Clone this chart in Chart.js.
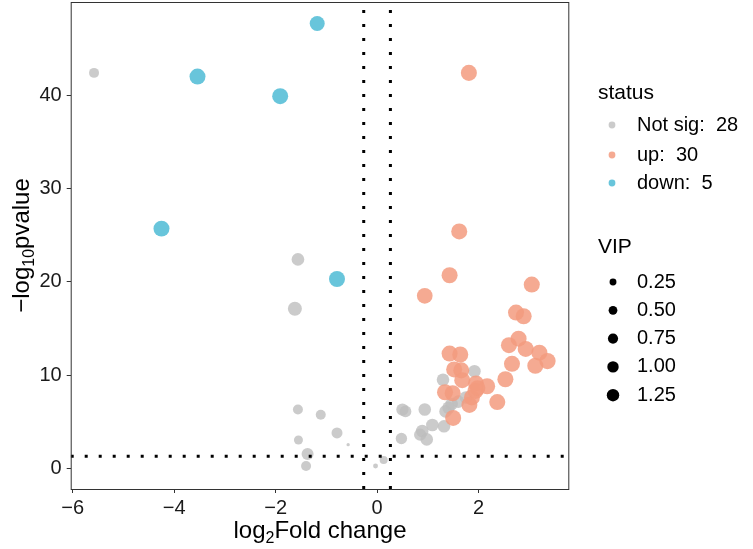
<!DOCTYPE html>
<html>
<head>
<meta charset="utf-8">
<script src="https://cdn.jsdelivr.net/npm/chart.js@4"></script>
<style>
  html, body { margin: 0; padding: 0; background: #fff; }
  #wrap { width: 753px; height: 549px; position: relative; }
</style>
</head>
<body>
<div id="wrap"><canvas id="volcano"></canvas></div>
<script>
// volcano plot: log2 fold change vs -log10 p, point size = VIP
const notSigX   = [-5.58, -1.56, -1.62, -1.56, -1.11, -0.79, -1.55, -0.57, -1.37, -1.40, -0.03, 0.13,
                   1.92, 1.30, 1.60, 1.41, 1.35, 0.50, 0.56, 0.94, 1.09, 1.32, 0.89, 0.85, 0.98, 0.48, 1.47, 1.75];
const notSigY   = [42.4, 22.4, 17.1, 6.3, 5.75, 3.79, 3.04, 2.53, 1.53, 0.25, 0.25, 0.9,
                   10.4, 9.5, 7.15, 6.5, 6.1, 6.3, 6.1, 6.3, 4.65, 4.5, 4.0, 3.6, 3.1, 3.2, 6.9, 7.6];
const notSigVIP = [0.71, 1.3, 1.66, 0.71, 0.71, 0.91, 0.54, 0.01, 1.14, 0.71, 0.08, 0.39,
                   1.28, 1.28, 1.28, 1.28, 1.28, 1.2, 1.1, 1.28, 1.28, 1.28, 1.28, 1.2, 1.28, 1.0, 1.28, 1.28];

const upX   = [1.81, 1.62, 1.43, 0.94, 3.05, 2.74, 2.89, 2.79, 2.60, 2.93, 3.20, 3.36, 3.12, 2.66, 2.53,
               2.37, 1.43, 1.64, 1.52, 1.66, 1.68, 1.95, 2.17, 1.34, 1.49, 1.94, 1.87, 1.82, 1.50, 1.98];
const upY   = [42.4, 25.4, 20.7, 18.5, 19.7, 16.7, 16.3, 13.9, 13.2, 12.8, 12.4, 11.5, 11.0, 11.2, 9.55,
               7.1, 12.3, 12.2, 10.6, 10.5, 9.45, 9.1, 8.8, 8.15, 8.05, 8.3, 7.6, 6.8, 5.4, 8.6];
const upVIP = [2.3, 2.3, 2.3, 2.2, 2.3, 2.3, 2.3, 2.3, 2.3, 2.3, 2.3, 2.4, 2.3, 2.3, 2.3,
               2.3, 2.3, 2.3, 2.3, 2.3, 2.3, 2.3, 2.3, 2.3, 2.3, 2.3, 2.3, 2.3, 2.3, 2.2];

const downX   = [-3.54, -1.91, -1.18, -4.25, -0.79];
const downY   = [42.0, 39.9, 47.7, 25.7, 20.3];
const downVIP = [2.28, 2.28, 1.96, 2.28, 2.28];

const fcCut = 0.263;   // log2(1.2)
const pCut = 1.301;    // -log10(0.05)
const xTicks = [-6, -4, -2, 0, 2];
const yTicks = [0, 10, 20, 30, 40];
const vipBreaks = [0.25, 0.50, 0.75, 1.00, 1.25];

const xMin = -6.04, xMax = 3.79, yMin = -2.22, yMax = 50.0;

const colGrey = 'rgba(190,190,190,0.8)';
const colUp = 'rgba(243,155,127,0.85)';
const colDown = 'rgba(77,187,213,0.85)';
const FONT = '"Liberation Sans", Arial, sans-serif';

const rad = v => 1.2 + 4.5 * Math.sqrt(v);
const pts = (xs, ys) => xs.map((x, i) => ({ x: x, y: ys[i] }));

function pointSet(label, xs, ys, vip, col) {
  return {
    label: label,
    data: pts(xs, ys),
    pointRadius: vip.map(rad),
    pointHoverRadius: vip.map(rad),
    pointBackgroundColor: col,
    pointBorderWidth: 0,
    showLine: false
  };
}

function dotted(label, data) {
  return {
    label: label,
    data: data,
    showLine: true,
    pointRadius: 0,
    borderColor: '#000',
    borderWidth: 3,
    borderDash: [3, 11],
    borderCapStyle: 'butt'
  };
}

const extras = {
  id: 'extras',
  afterDraw(chart) {
    const ctx = chart.ctx;
    const a = chart.chartArea;
    ctx.save();
    // panel border
    ctx.strokeStyle = '#333';
    ctx.lineWidth = 1;
    ctx.strokeRect(a.left + 0.5, a.top + 0.5, a.right - a.left - 1, a.bottom - a.top);

    ctx.fillStyle = '#000';
    ctx.textBaseline = 'alphabetic';
    // x title with subscript
    const big = '24px ' + FONT, sub = '16px ' + FONT;
    ctx.font = big; const w1 = ctx.measureText('log').width;
    ctx.font = sub; const w2 = ctx.measureText('2').width;
    ctx.font = big; const w3 = ctx.measureText('Fold change').width;
    let x0 = (a.left + a.right) / 2 - (w1 + w2 + w3) / 2;
    const by = 538;
    ctx.font = big; ctx.fillText('log', x0, by);
    ctx.font = sub; ctx.fillText('2', x0 + w1, by + 5);
    ctx.font = big; ctx.fillText('Fold change', x0 + w1 + w2, by);

    // y title with subscript, rotated
    ctx.save();
    ctx.translate(29, (a.top + a.bottom) / 2);
    ctx.rotate(-Math.PI / 2);
    ctx.font = big; const v1 = ctx.measureText('\u2212log').width;
    ctx.font = sub; const v2 = ctx.measureText('10').width;
    ctx.font = big; const v3 = ctx.measureText('pvalue').width;
    x0 = -(v1 + v2 + v3) / 2;
    ctx.font = big; ctx.fillText('\u2212log', x0, 0);
    ctx.font = sub; ctx.fillText('10', x0 + v1, 5);
    ctx.font = big; ctx.fillText('pvalue', x0 + v1 + v2, 0);
    ctx.restore();

    // legends
    ctx.textBaseline = 'middle';
    ctx.font = '21px ' + FONT;
    ctx.fillText('status', 598, 93);
    const st = [
      ['Not sig:  ' + notSigX.length, colGrey, 125],
      ['up:  ' + upX.length, colUp, 155],
      ['down:  ' + downX.length, colDown, 183]
    ];
    ctx.font = '20px ' + FONT;
    st.forEach(s => {
      ctx.fillStyle = s[1];
      ctx.beginPath(); ctx.arc(612, s[2], 3.4, 0, Math.PI * 2); ctx.fill();
      ctx.fillStyle = '#000';
      ctx.fillText(s[0], 637, s[2]);
    });
    ctx.font = '21px ' + FONT;
    ctx.fillText('VIP', 598, 247);
    ctx.font = '20px ' + FONT;
    vipBreaks.forEach((v, i) => {
      const yy = 282 + i * 28.3;
      ctx.fillStyle = '#000';
      ctx.beginPath(); ctx.arc(613, yy, rad(v), 0, Math.PI * 2); ctx.fill();
      ctx.fillText(v.toFixed(2), 637, yy);
    });
    ctx.restore();
  }
};

const fmt = v => (v < 0 ? '\u2212' + Math.abs(v) : String(v));

new Chart(document.getElementById('volcano'), {
  type: 'scatter',
  data: {
    datasets: [
      dotted('vl', [{ x: -fcCut, y: yMin }, { x: -fcCut, y: yMax }]),
      dotted('vr', [{ x: fcCut, y: yMin }, { x: fcCut, y: yMax }]),
      dotted('h', [{ x: xMin, y: pCut }, { x: xMax, y: pCut }]),
      pointSet('down', downX, downY, downVIP, colDown),
      pointSet('up', upX, upY, upVIP, colUp),
      pointSet('Not sig', notSigX, notSigY, notSigVIP, colGrey)
    ]
  },
  options: {
    responsive: true,
    maintainAspectRatio: false,
    animation: false,
    events: [],
    layout: { autoPadding: false, padding: { left: 0, right: 183.7, top: 2, bottom: 0 } },
    plugins: { legend: { display: false }, tooltip: { enabled: false } },
    scales: {
      x: {
        type: 'linear',
        min: xMin, max: xMax,
        afterBuildTicks: s => { s.ticks = xTicks.map(v => ({ value: v })); },
        afterFit: s => { s.height = 60; s.paddingLeft = 0; s.paddingRight = 0; },
        grid: { drawOnChartArea: false, drawTicks: true, tickLength: 4, color: '#333' },
        border: { display: false },
        ticks: { color: '#1a1a1a', font: { size: 20, family: FONT }, padding: 3, maxRotation: 0, callback: fmt }
      },
      y: {
        type: 'linear',
        min: yMin, max: yMax,
        afterBuildTicks: s => { s.ticks = yTicks.map(v => ({ value: v })); },
        afterFit: s => { s.width = 70.7; s.paddingTop = 0; s.paddingBottom = 0; },
        grid: { drawOnChartArea: false, drawTicks: true, tickLength: 4, color: '#333' },
        border: { display: false },
        ticks: { color: '#1a1a1a', font: { size: 20, family: FONT }, padding: 5, callback: fmt }
      }
    }
  },
  plugins: [extras]
});
</script>
</body>
</html>
